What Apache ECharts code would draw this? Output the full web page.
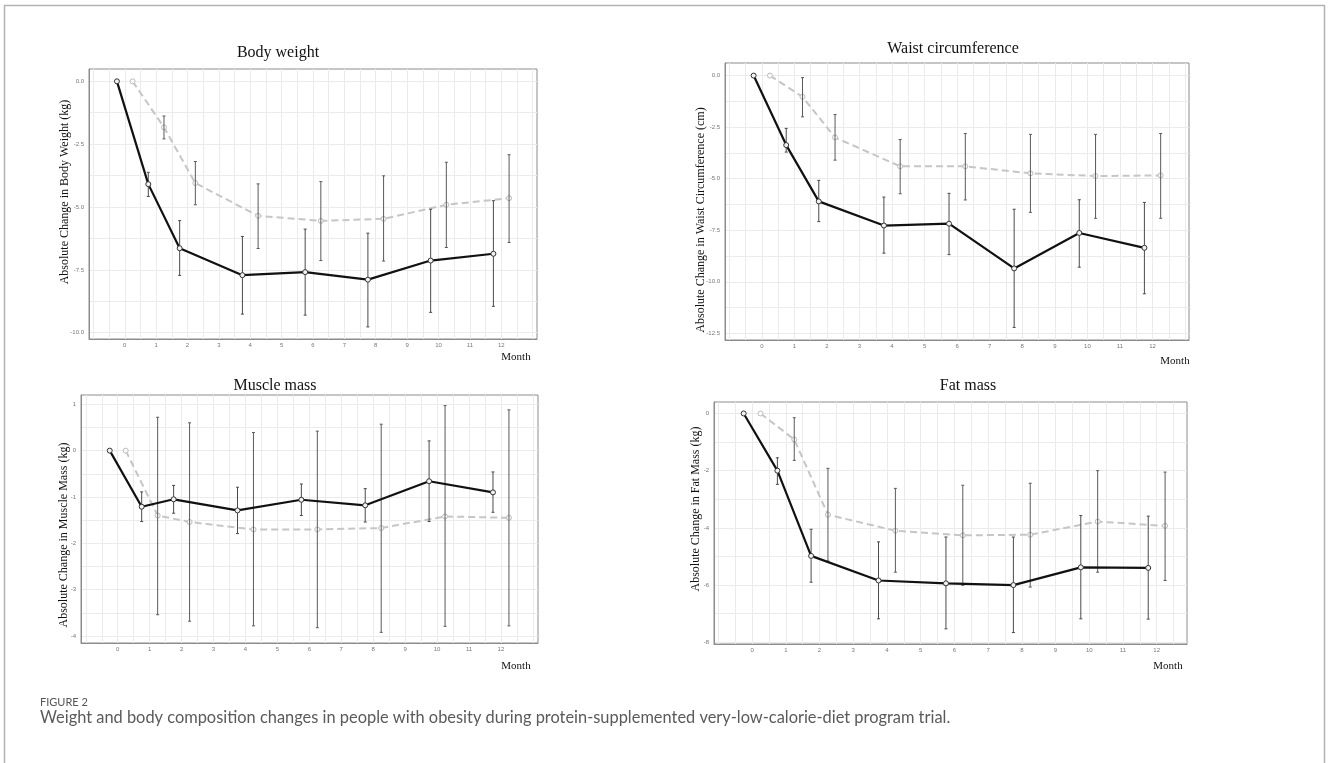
<!DOCTYPE html>
<html>
<head>
<meta charset="utf-8">
<script src="https://cdn.jsdelivr.net/npm/echarts@6/dist/echarts.min.js"></script>
<style>
  html, body { margin: 0; padding: 0; background: #fff; }
  #chart { width: 1328px; height: 763px; }
</style>
</head>
<body>
<div id="chart"></div>
<script>
// months of measurement and x tick labels
const months = [0, 1, 2, 4, 6, 8, 10, 12]
const monthTicks = [0, 1, 2, 3, 4, 5, 6, 7, 8, 9, 10, 11, 12]

// y tick labels for each panel
const weightTicks = [0, -2.5, -5, -7.5, -10]
const waistTicks = [0, -2.5, -5, -7.5, -10, -12.5]
const muscleTicks = [1, 0, -1, -2, -3, -4]
const fatTicks = [0, -2, -4, -6, -8]

// Body weight (kg) - group A (black, solid) / group B (grey, dashed)
const weightA = [0, -4.09, -6.64, -7.71, -7.59, -7.89, -7.13, -6.86]
const weightAHigh = [0, -3.62, -5.54, -6.17, -5.88, -6.04, -5.09, -4.75]
const weightALow = [0, -4.58, -7.72, -9.26, -9.30, -9.77, -9.19, -8.95]
const weightB = [0, -1.83, -4.05, -5.35, -5.55, -5.47, -4.91, -4.65]
const weightBHigh = [0, -1.38, -3.19, -4.08, -3.99, -3.76, -3.22, -2.92]
const weightBLow = [0, -2.29, -4.91, -6.65, -7.13, -7.15, -6.61, -6.41]

// Waist circumference (cm)
const waistA = [0, -3.37, -6.10, -7.27, -7.18, -9.35, -7.63, -8.35]
const waistAHigh = [0, -2.56, -5.08, -5.89, -5.71, -6.48, -6.02, -6.15]
const waistALow = [0, -3.71, -7.08, -8.61, -8.68, -12.21, -9.29, -10.58]
const waistB = [0, -1.03, -3.00, -4.40, -4.40, -4.74, -4.87, -4.84]
const waistBHigh = [0, -0.10, -1.89, -3.10, -2.81, -2.85, -2.85, -2.81]
const waistBLow = [0, -2.00, -4.10, -5.73, -6.03, -6.63, -6.92, -6.92]

// Muscle mass (kg)
const muscleA = [0, -1.21, -1.05, -1.29, -1.06, -1.18, -0.66, -0.90]
const muscleAHigh = [0, -0.89, -0.75, -0.79, -0.72, -0.82, 0.21, -0.46]
const muscleALow = [0, -1.53, -1.35, -1.79, -1.40, -1.54, -1.53, -1.33]
const muscleB = [0, -1.40, -1.54, -1.70, -1.70, -1.67, -1.42, -1.45]
const muscleBHigh = [0, 0.72, 0.60, 0.39, 0.42, 0.57, 0.97, 0.88]
const muscleBLow = [0, -3.54, -3.68, -3.78, -3.82, -3.92, -3.79, -3.78]

// Fat mass (kg)
const fatA = [0, -2.00, -4.98, -5.84, -5.94, -6.00, -5.38, -5.40]
const fatAHigh = [0, -1.55, -4.05, -4.49, -4.32, -4.32, -3.57, -3.59]
const fatALow = [0, -2.48, -5.90, -7.18, -7.53, -7.66, -7.18, -7.19]
const fatB = [0, -0.91, -3.54, -4.10, -4.26, -4.24, -3.78, -3.93]
const fatBHigh = [0, -0.15, -1.92, -2.62, -2.51, -2.44, -2.00, -2.05]
const fatBLow = [0, -1.64, -5.16, -5.55, -6.01, -6.07, -5.55, -5.84]

const dodge = 0.25
const serif = '"Liberation Serif", "Times New Roman", serif'

// panel layout
const panels = [
  {
    title: 'Body weight', yName: 'Absolute Change in Body Weight (kg)',
    grid: { left: 89, top: 69, width: 448, height: 270 },
    xMin: -1.14, xMax: 13.14, yMin: -10.25, yMax: 0.49, ticks: weightTicks, dec: 1,
    titlePos: [278, 53], yNamePos: [65, 192], monthPos: [516, 357],
    a: [weightA, weightALow, weightAHigh], b: [weightB, weightBLow, weightBHigh]
  },
  {
    title: 'Waist circumference', yName: 'Absolute Change in Waist Circumference (cm)',
    grid: { left: 725, top: 63, width: 464, height: 277 },
    xMin: -1.13, xMax: 13.12, yMin: -12.82, yMax: 0.61, ticks: waistTicks, dec: 1,
    titlePos: [953, 49], yNamePos: [701, 220], monthPos: [1175, 361],
    a: [waistA, waistALow, waistAHigh], b: [waistB, waistBLow, waistBHigh]
  },
  {
    title: 'Muscle mass', yName: 'Absolute Change in Muscle Mass (kg)',
    grid: { left: 81, top: 395, width: 457, height: 248 },
    xMin: -1.15, xMax: 13.16, yMin: -4.15, yMax: 1.2, ticks: muscleTicks, dec: 0,
    titlePos: [275, 386], yNamePos: [64, 535], monthPos: [516, 666],
    a: [muscleA, muscleALow, muscleAHigh], b: [muscleB, muscleBLow, muscleBHigh]
  },
  {
    title: 'Fat mass', yName: 'Absolute Change in Fat Mass (kg)',
    grid: { left: 714, top: 402, width: 473, height: 242 },
    xMin: -1.13, xMax: 12.9, yMin: -8.06, yMax: 0.40, ticks: fatTicks, dec: 0,
    titlePos: [968, 386], yNamePos: [696, 509], monthPos: [1168, 666],
    a: [fatA, fatALow, fatAHigh], b: [fatB, fatBLow, fatBHigh]
  }
]

// grid lines every half step between the labelled ticks (major + minor)
const halfSteps = (ticks, lo, hi) => {
  const step = Math.abs(ticks[1] - ticks[0]) / 2
  const out = []
  for (let v = Math.ceil(lo / step) * step; v <= hi + 1e-9; v += step) {
    if (v > lo + 1e-6 && v < hi - 1e-6) out.push(Math.round(v * 1000) / 1000)
  }
  return out
}

const errorBars = (p, i, vals, color) => ({
  type: 'custom',
  xAxisIndex: i,
  yAxisIndex: i,
  z: 3,
  data: months.map((m, k) => [m + p, vals[1][k], vals[2][k]]).filter(d => d[1] !== d[2]),
  encode: { x: 0, y: [1, 2] },
  renderItem: (params, api) => {
    const x = api.value(0)
    const lo = api.coord([x, api.value(1)])
    const hi = api.coord([x, api.value(2)])
    const style = { stroke: color, lineWidth: 1 }
    return {
      type: 'group',
      children: [
        { type: 'line', shape: { x1: hi[0], y1: hi[1], x2: lo[0], y2: lo[1] }, style },
        { type: 'line', shape: { x1: hi[0] - 1.5, y1: hi[1], x2: hi[0] + 1.5, y2: hi[1] }, style },
        { type: 'line', shape: { x1: lo[0] - 1.5, y1: lo[1], x2: lo[0] + 1.5, y2: lo[1] }, style }
      ]
    }
  }
})

const grids = []
const xAxes = []
const yAxes = []
const series = []
const graphics = []

panels.forEach((pn, i) => {
  grids.push(Object.assign({ show: true, borderColor: '#8c8c8c', borderWidth: 1 }, pn.grid))
  xAxes.push({
    gridIndex: i, type: 'value', min: pn.xMin, max: pn.xMax,
    axisLine: { show: true, onZero: false, lineStyle: { color: '#8c8c8c' } },
    axisTick: { show: false, customValues: halfSteps(monthTicks, pn.xMin, pn.xMax) },
    axisLabel: {
      customValues: monthTicks,
      fontSize: 6, color: '#777', margin: 3,
      formatter: v => String(v)
    },
    splitLine: { show: true, lineStyle: { color: '#ebebeb' } }
  })
  yAxes.push({
    gridIndex: i, type: 'value', min: pn.yMin, max: pn.yMax,
    axisLine: { show: true, onZero: false, lineStyle: { color: '#8c8c8c' } },
    axisTick: { show: false, customValues: halfSteps(pn.ticks, pn.yMin, pn.yMax) },
    axisLabel: {
      customValues: pn.ticks,
      fontSize: 6, color: '#777', margin: 5,
      formatter: v => v.toFixed(pn.dec)
    },
    splitLine: { show: true, lineStyle: { color: '#ebebeb' } }
  })

  // grey group (dashed)
  series.push({
    type: 'line', xAxisIndex: i, yAxisIndex: i, z: 2,
    data: months.map((m, k) => [m + dodge, pn.b[0][k]]),
    lineStyle: { color: '#c6c6c6', width: 2, type: [7, 4] },
    symbol: 'circle', symbolSize: 5,
    itemStyle: { color: '#fafafa', borderColor: '#bdbdbd', borderWidth: 1 }
  })
  series.push(errorBars(dodge, i, pn.b, '#5a5a5a'))
  // black group (solid)
  series.push({
    type: 'line', xAxisIndex: i, yAxisIndex: i, z: 4,
    data: months.map((m, k) => [m - dodge, pn.a[0][k]]),
    lineStyle: { color: '#111', width: 2.2 },
    symbol: 'circle', symbolSize: 5,
    itemStyle: { color: '#f2f2f2', borderColor: '#333', borderWidth: 1 }
  })
  series.push(errorBars(-dodge, i, pn.a, '#4a4a4a'))

  graphics.push({
    type: 'text', x: pn.titlePos[0], y: pn.titlePos[1],
    style: { text: pn.title, font: '16px ' + serif, fill: '#111', textAlign: 'center', textVerticalAlign: 'middle' }
  })
  graphics.push({
    type: 'text', x: pn.yNamePos[0], y: pn.yNamePos[1], rotation: Math.PI / 2,
    style: { text: pn.yName, font: '12px ' + serif, fill: '#111', textAlign: 'center', textVerticalAlign: 'middle' }
  })
  graphics.push({
    type: 'text', x: pn.monthPos[0], y: pn.monthPos[1],
    style: { text: 'Month', font: '11px ' + serif, fill: '#111', textAlign: 'center', textVerticalAlign: 'middle' }
  })
})

// figure frame and caption
graphics.push({
  type: 'polyline',
  shape: { points: [[4.5, 763], [4.5, 5.5], [1324.5, 5.5], [1324.5, 763]] },
  style: { stroke: '#b3b3b3', lineWidth: 1.5, fill: null }
})
graphics.push({
  type: 'text', x: 40, y: 702,
  style: { text: 'FIGURE 2', font: '11px Lato, "Open Sans", sans-serif', fill: '#555', textVerticalAlign: 'middle' }
})
graphics.push({
  type: 'text', x: 40, y: 718,
  style: {
    text: 'Weight and body composition changes in people with obesity during protein-supplemented very-low-calorie-diet program trial.',
    font: '16.4px Lato, "Open Sans", sans-serif', fill: '#5a5a5a', textVerticalAlign: 'middle'
  }
})

const myChart = echarts.init(document.getElementById('chart'))
const option = {
  animation: false,
  backgroundColor: '#fff',
  grid: grids,
  xAxis: xAxes,
  yAxis: yAxes,
  series: series,
  graphic: graphics
}
option && myChart.setOption(option)
</script>
</body>
</html>
